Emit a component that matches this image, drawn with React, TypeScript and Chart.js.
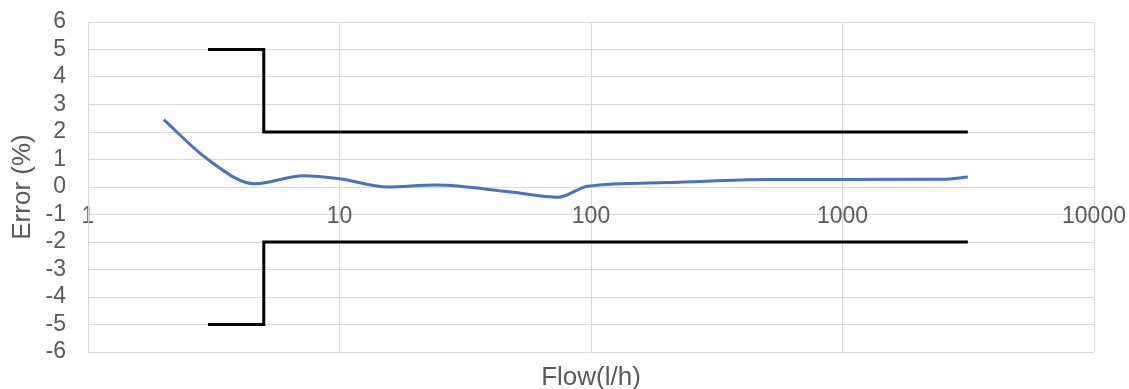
import React, { useEffect, useRef } from "react";
import { Chart, registerables } from "chart.js";

Chart.register(...registerables);

// Measured error curve
const flowValues = [2, 3, 4.6, 7.2, 10, 15.5, 24, 48, 74, 97, 200, 500, 2500, 3150];
const errorValues = [2.45, 1.0, 0.12, 0.41, 0.3, 0.0, 0.07, -0.18, -0.37, 0.03, 0.16, 0.27, 0.28, 0.36];

// Upper / lower limit lines
const limitFlows = [3, 5, 5, 3150];
const upperLimit = [5, 5, 2, 2];
const lowerLimit = [-5, -5, -2, -2];

// Axis ticks
const xTickValues = [1, 10, 100, 1000, 10000];
const yMin = -6;
const yMax = 6;

const GRID = "#d9d9d9";
const TEXT = "#595959";
const FONT = "'Liberation Sans', Arial, sans-serif";

export default function App() {
  const ref = useRef<HTMLCanvasElement | null>(null);

  useEffect(() => {
    if (!ref.current) return;
    const toPts = (xs: number[], ys: number[]) => xs.map((x, i) => ({ x, y: ys[i] }));
    const chart = new Chart(ref.current, {
      type: "line",
      data: {
        datasets: [
          {
            label: "Error",
            data: toPts(flowValues, errorValues),
            borderColor: "#4472C4",
            borderWidth: 3,
            pointRadius: 0,
            cubicInterpolationMode: "monotone",
            fill: false,
            xAxisID: "x",
          },
          {
            label: "Upper",
            data: toPts(limitFlows, upperLimit),
            borderColor: "#000000",
            borderWidth: 3,
            pointRadius: 0,
            tension: 0,
            fill: false,
            xAxisID: "x",
          },
          {
            label: "Lower",
            data: toPts(limitFlows, lowerLimit),
            borderColor: "#000000",
            borderWidth: 3,
            pointRadius: 0,
            tension: 0,
            fill: false,
            xAxisID: "x",
          },
        ],
      },
      options: {
        animation: false,
        responsive: true,
        maintainAspectRatio: false,
        layout: { padding: { top: 22, right: 35, bottom: 0, left: 0 } },
        plugins: { legend: { display: false }, tooltip: { enabled: false } },
        scales: {
          x: {
            type: "logarithmic",
            position: { y: 0 } as any,
            min: 1,
            max: 10000,
            afterBuildTicks: (scale: any) => {
              scale.ticks = xTickValues.map((v) => ({ value: v }));
            },
            afterFit: (scale: any) => {
              scale.paddingLeft = 0;
              scale.paddingRight = 0;
            },
            grid: { color: GRID, lineWidth: 1, drawTicks: false },
            border: { color: GRID, width: 1 },
            ticks: {
              color: TEXT,
              font: { family: FONT, size: 23 },
              padding: 16,
              maxRotation: 0,
              autoSkip: false,
              callback: (v: any) => String(v),
            },
          },
          x2: {
            type: "logarithmic",
            position: "bottom",
            min: 1,
            max: 10000,
            grid: { display: false, drawTicks: false },
            border: { display: false },
            ticks: { display: false },
            afterFit: (scale: any) => {
              scale.height = 37;
              scale.paddingLeft = 0;
              scale.paddingRight = 0;
            },
            title: {
              display: true,
              text: "Flow(l/h)",
              color: TEXT,
              font: { family: FONT, size: 26 },
              padding: { top: 0, bottom: -4 },
            },
          },
          y: {
            type: "linear",
            min: yMin,
            max: yMax,
            afterFit: (scale: any) => {
              scale.width = 88;
              scale.paddingTop = 0;
              scale.paddingBottom = 0;
            },
            ticks: {
              stepSize: 1,
              autoSkip: false,
              color: TEXT,
              font: { family: FONT, size: 23 },
              padding: 22,
            },
            grid: { color: GRID, lineWidth: 1, drawTicks: false },
            border: { color: GRID, width: 1 },
            title: {
              display: true,
              text: "Error (%)",
              color: TEXT,
              font: { family: FONT, size: 26 },
              padding: { top: 7, bottom: 0 },
            },
          },
        },
      },
    });
    return () => chart.destroy();
  }, []);

  return (
    <div style={{ position: "fixed", left: 0, top: 0, width: 1129, height: 389, background: "#fff" }}>
      <canvas ref={ref} />
    </div>
  );
}
